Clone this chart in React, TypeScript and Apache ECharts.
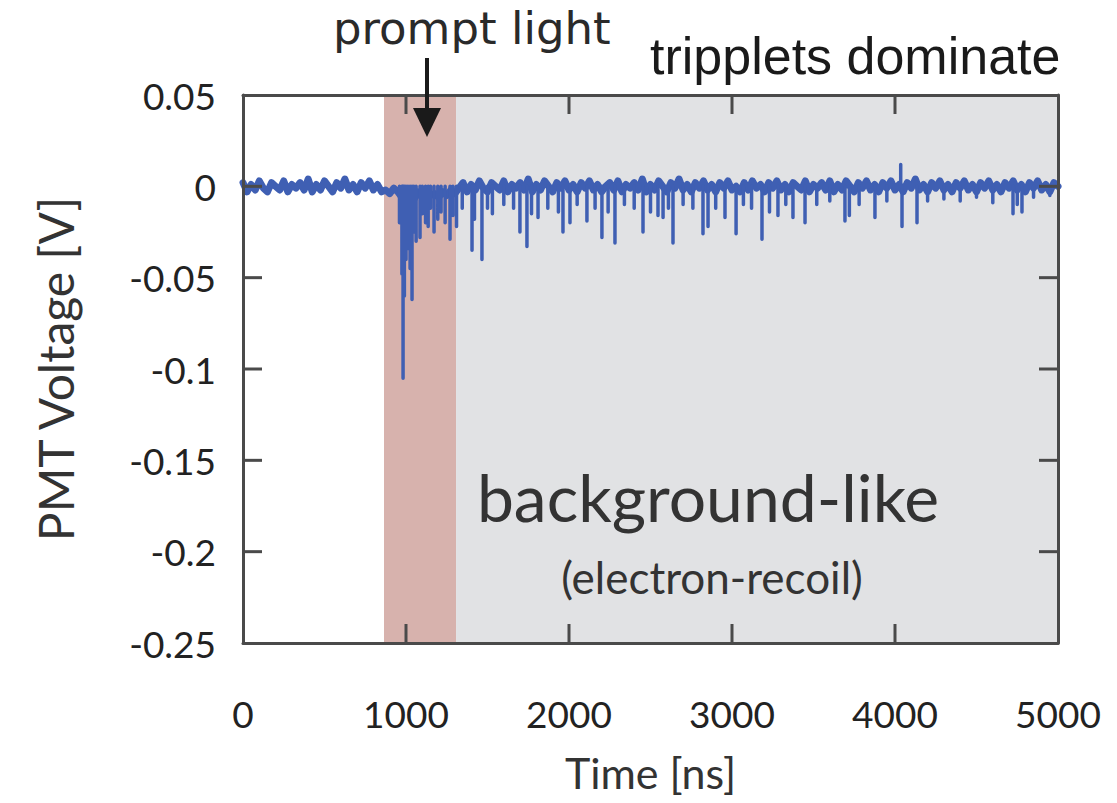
import React, { useEffect, useRef } from "react";
import * as echarts from "echarts";

// Baseline samples every 25 ns (mV), t = 0 .. 5000
const baselineStepNs = 25;
const baselineMv = [
  // 0 .. 850
  2, -3, 1, -2, 3, -1, -3, 2, 0, -2, 3, -3, 1, -1, 2, -2, 4, -3, 1, -2, 3, 0, -3, 2, -1, 4, -2, 1, -3, 2, -1, 3, -2, 1, -3,
  // 875 .. 950
  -2, -4, -1, -3,
  // 975 .. 1300
  -6, -8, -4, -7, -3, -6, -2, -5, -4, -6, -3, -5, -2, -4,
  // 1325 .. 5000
  -1, 2, -3, 1, -2, 3, -1, -3, 2, 0, -2, 3, -3, 1, -1, 2, -2, 4, -3, 1,
  -2, 3, 0, -3, 2, -1, 3, -2, 1, -3, 2, -1, 3, -2, 1, -3, 0, 2, -2, 3,
  -3, 1, -1, 2, -2, 4, -3, 1, -2, 3, 0, -3, 2, -1, 4, -2, 1, -3, 2, -1,
  3, -2, 1, -3, 2, -1, 3, -2, 0, -3, 2, -2, 3, -1, 1, -3, 2, -1, 3, -2,
  1, -3, 2, 0, -2, 3, -3, 1, -1, 2, -2, 3, -3, 1, -2, 3, 0, -3, 2, -1,
  3, -2, 1, -3, 2, -1, 3, -2, 1, -3, 2, -1, 4, -2, 1, -3, 2, -1, 3, -2,
  1, -3, 2, -1, 3, -2, 1, -3, 2, -1, 3, -2, 1, -3, 2, -1, 3, -2, 1, -3,
  2, -1, 3, -2, 1, -3, 2, 0,
];

// Photon pulses (spikes): time [ns] and amplitude [mV]
const spikeTimesNs = [
  960, 975, 982, 990, 1000, 1012, 1025, 1037, 1048, 1062, 1086, 1100, 1120, 1136, 1150, 1172, 1195, 1215, 1240, 1270,
  1288, 1310, 1345, 1405, 1420, 1466, 1500, 1530, 1600, 1660, 1699, 1742, 1770, 1810, 1870, 1935, 1963, 2006, 2050, 2110,
  2160, 2202, 2240, 2282, 2340, 2400, 2454, 2500, 2546, 2577, 2610, 2638, 2700, 2760, 2822, 2853, 2900, 2957, 3025, 3070,
  3120, 3184, 3230, 3282, 3330, 3374, 3448, 3520, 3600, 3693, 3720, 3780, 3877, 3950, 4035, 4043, 4135, 4200, 4300, 4400,
  4500, 4600, 4724, 4750, 4779, 4850, 4950,
];
const spikeMv = [
  -20, -48, -105, -60, -40, -34, -45, -62, -25, -30, -28, -15, -20, -22, -12, -25, -18, -14, -20, -29,
  -16, -22, -12, -35, -18, -40, -12, -15, -10, -12, -25, -33, -15, -17, -12, -14, -25, -20, -10, -19,
  -12, -28, -14, -31, -10, -12, -25, -14, -16, -17, -12, -31, -10, -12, -26, -22, -12, -17, -26, -10,
  -12, -29, -14, -16, -10, -17, -20, -10, -8, -19, -16, -10, -17, -8, 12, -22, -20, -8, -7, -8,
  -6, -9, -15, -10, -14, -6, -5,
];

const xRange = { min: 0, max: 5000, interval: 1000 };
const yRange = { min: -0.25, max: 0.05, interval: 0.05 };
const xInnerTicks = [1000, 2000, 3000, 4000];
const yInnerTicks = [-0.2, -0.15, -0.1, -0.05, 0];
const promptWindowNs = [865, 1307];
const tripletWindowNs = [1307, 5000];

export default function App() {
  const ref = useRef<HTMLDivElement>(null);

  useEffect(() => {
    if (!ref.current) return;
    const chart = echarts.init(ref.current, null, { renderer: "svg" });

    const basePts: [number, number][] = baselineMv.map((v, i) => [i * baselineStepNs, v / 1000]);

    // each spike is a vertical needle from the baseline, separated by gaps
    const spikePts: any[] = [];
    spikeTimesNs.forEach((t, i) => {
      spikePts.push([t, 0]);
      spikePts.push([t, spikeMv[i] / 1000]);
      spikePts.push([t, "-"]);
    });

    // tick rows: [x, y, side] side 0=bottom,1=top,2=left,3=right
    const tickRows: number[][] = [];
    xInnerTicks.forEach((t) => {
      tickRows.push([t, yRange.min, 0]);
      tickRows.push([t, yRange.max, 1]);
    });
    yInnerTicks.forEach((v) => {
      tickRows.push([xRange.min, v, 2]);
      tickRows.push([xRange.max, v, 3]);
    });

    const font = "Lato, 'Noto Sans', sans-serif";
    const frameColor = "#4a4a4a";
    const frame = { show: true, onZero: false, lineStyle: { color: frameColor, width: 3 } };
    const tickLen = 19;
    const waveColor = "#3f5fb3";

    chart.setOption({
      animation: false,
      backgroundColor: "#ffffff",
      grid: { left: 243, right: 59, top: 95, bottom: 160, containLabel: false },
      xAxis: [
        {
          type: "value",
          min: xRange.min,
          max: xRange.max,
          interval: xRange.interval,
          position: "bottom",
          z: 5,
          axisLine: frame,
          axisTick: { show: false },
          splitLine: { show: false },
          axisLabel: {
            fontFamily: font,
            fontSize: 37,
            color: "#222",
            margin: 52,
            formatter: (v: number) => String(v),
          },
          name: "Time [ns]",
          nameLocation: "middle",
          nameGap: 108,
          nameTextStyle: { fontFamily: font, fontSize: 43, color: "#333" },
        },
        {
          type: "value",
          min: xRange.min,
          max: xRange.max,
          interval: xRange.interval,
          position: "top",
          z: 5,
          axisLine: frame,
          axisTick: { show: false },
          splitLine: { show: false },
          axisLabel: { show: false },
        },
      ],
      yAxis: [
        {
          type: "value",
          min: yRange.min,
          max: yRange.max,
          interval: yRange.interval,
          position: "left",
          z: 5,
          axisLine: frame,
          axisTick: { show: false },
          splitLine: { show: false },
          axisLabel: {
            fontFamily: font,
            fontSize: 37,
            color: "#222",
            margin: 27,
            formatter: (v: number) => String(+v.toFixed(2)),
          },
          name: "PMT Voltage [V]",
          nameLocation: "middle",
          nameGap: 164,
          nameRotate: 90,
          nameTextStyle: { fontFamily: font, fontSize: 48, color: "#333" },
        },
        {
          type: "value",
          min: yRange.min,
          max: yRange.max,
          interval: yRange.interval,
          position: "right",
          z: 5,
          axisLine: frame,
          axisTick: { show: false },
          splitLine: { show: false },
          axisLabel: { show: false },
        },
      ],
      series: [
        {
          type: "line",
          z: 1,
          data: [],
          markArea: {
            silent: true,
            data: [
              [
                { xAxis: promptWindowNs[0], itemStyle: { color: "#d7b2ad" } },
                { xAxis: promptWindowNs[1] },
              ],
              [
                { xAxis: tripletWindowNs[0], itemStyle: { color: "#e1e2e4" } },
                { xAxis: tripletWindowNs[1] },
              ],
            ],
          },
        },
        {
          type: "line",
          z: 3,
          data: basePts,
          showSymbol: false,
          lineStyle: { color: waveColor, width: 7, join: "round", cap: "round" },
        },
        {
          type: "line",
          z: 3,
          data: spikePts,
          showSymbol: false,
          connectNulls: false,
          lineStyle: { color: waveColor, width: 3.5, cap: "round" },
        },
        {
          type: "custom",
          z: 6,
          silent: true,
          clip: false,
          data: tickRows,
          renderItem: (params: any, api: any) => {
            const p = api.coord([api.value(0), api.value(1)]);
            const side = api.value(2);
            let x2 = p[0];
            let y2 = p[1];
            if (side === 0) y2 = p[1] - tickLen;
            else if (side === 1) y2 = p[1] + tickLen;
            else if (side === 2) x2 = p[0] + tickLen;
            else x2 = p[0] - tickLen;
            return {
              type: "line",
              shape: { x1: p[0], y1: p[1], x2, y2 },
              style: { stroke: frameColor, lineWidth: 3 },
            };
          },
        },
      ],
      graphic: [
        {
          type: "text",
          left: 333,
          top: 6,
          style: {
            text: "prompt light",
            fontFamily: "'DejaVu Sans', sans-serif",
            fontSize: 45,
            fill: "#2a2a2a",
          },
        },
        {
          type: "line",
          shape: { x1: 427, y1: 58, x2: 427, y2: 115 },
          style: { stroke: "#1a1a1a", lineWidth: 4 },
          z: 10,
        },
        {
          type: "polygon",
          shape: { points: [[413, 108], [441, 108], [427, 137]] },
          style: { fill: "#1a1a1a" },
          z: 10,
        },
        {
          type: "text",
          left: 650,
          top: 30,
          style: {
            text: "tripplets dominate",
            fontFamily: "'Liberation Sans', Arial, sans-serif",
            fontSize: 52,
            fill: "#1a1a1a",
          },
        },
        {
          type: "text",
          x: 708,
          y: 496,
          style: {
            text: "background-like",
            fontFamily: font,
            fontSize: 66,
            fill: "#333",
            align: "center",
            verticalAlign: "middle",
          },
          z: 10,
        },
        {
          type: "text",
          x: 712,
          y: 577,
          style: {
            text: "(electron-recoil)",
            fontFamily: font,
            fontSize: 44,
            fill: "#333",
            align: "center",
            verticalAlign: "middle",
          },
          z: 10,
        },
      ],
    });

    return () => chart.dispose();
  }, []);

  return (
    <div
      ref={ref}
      style={{ position: "fixed", left: 0, top: 0, width: 1117, height: 803 }}
    />
  );
}
